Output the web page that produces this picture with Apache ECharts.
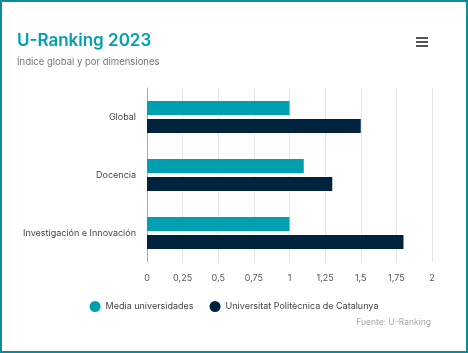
<!DOCTYPE html>
<html>
<head>
<meta charset="utf-8">
<script src="https://cdn.jsdelivr.net/npm/echarts@6/dist/echarts.min.js"></script>
<style>
  html, body { margin: 0; padding: 0; background: #fff; }
  #frame { width: 468px; height: 353px; box-sizing: border-box; border: 2px solid #0a8c9c; }
  #chart { width: 464px; height: 349px; }
</style>
</head>
<body>
<div id="frame"><div id="chart"></div></div>
<script>
  // datos
  const categorias = ['Global', 'Docencia', 'Investigación e Innovación']
  const mediaUniversidades = [1, 1.1, 1]
  const upc = [1.5, 1.3, 1.8]
  const ticks = [0, 0.25, 0.5, 0.75, 1, 1.25, 1.5, 1.75, 2]

  const myChart = echarts.init(document.getElementById('chart'))
  const fuente = 'Inter, "Noto Sans", sans-serif'

  const option = {
    textStyle: { fontFamily: fuente },
    title: {
      text: 'U-Ranking 2023',
      subtext: 'Índice global y por dimensiones',
      left: 10,
      top: 25,
      itemGap: 8,
      textStyle: { color: '#00a0b0', fontSize: 17, fontWeight: 600, fontFamily: fuente },
      subtextStyle: { color: '#777', fontSize: 9.5, fontFamily: fuente }
    },
    graphic: [
      { type: 'rect', left: 414, top: 35, shape: { width: 12, height: 2 }, style: { fill: '#555' } },
      { type: 'rect', left: 414, top: 39, shape: { width: 12, height: 2 }, style: { fill: '#555' } },
      { type: 'rect', left: 414, top: 43, shape: { width: 12, height: 2 }, style: { fill: '#555' } },
      {
        type: 'text', right: 35, top: 316,
        style: { text: 'Fuente: U-Ranking', fill: '#aaa', fontSize: 8.5, fontFamily: fuente }
      }
    ],
    legend: {
      top: 294,
      left: 'center',
      icon: 'circle',
      itemWidth: 11,
      itemHeight: 11,
      itemGap: 16,
      textStyle: { color: '#444', fontSize: 9 },
      data: ['Media universidades', 'Universitat Politècnica de Catalunya']
    },
    grid: { left: 145, right: 34, top: 86, bottom: 89 },
    xAxis: {
      type: 'value',
      min: 0,
      max: 2,
      interval: 0.25,
      axisLine: { show: false },
      axisTick: { show: false },
      splitLine: { lineStyle: { color: '#e6e6e6' } },
      axisLabel: {
        color: '#555',
        fontSize: 9,
        margin: 12,
        formatter: v => ticks.includes(v) ? String(v).replace('.', ',') : ''
      }
    },
    yAxis: {
      type: 'category',
      inverse: true,
      data: categorias,
      axisLine: { lineStyle: { color: '#aaa' } },
      axisTick: { show: false },
      axisLabel: { color: '#444', fontSize: 9, margin: 11 }
    },
    series: [
      {
        name: 'Media universidades',
        type: 'bar',
        data: mediaUniversidades,
        barWidth: 14,
        barGap: '30%',
        itemStyle: { color: '#00a0b0' }
      },
      {
        name: 'Universitat Politècnica de Catalunya',
        type: 'bar',
        data: upc,
        barWidth: 14,
        itemStyle: { color: '#00233d' }
      }
    ]
  }
  myChart.setOption(option)
</script>
</body>
</html>
